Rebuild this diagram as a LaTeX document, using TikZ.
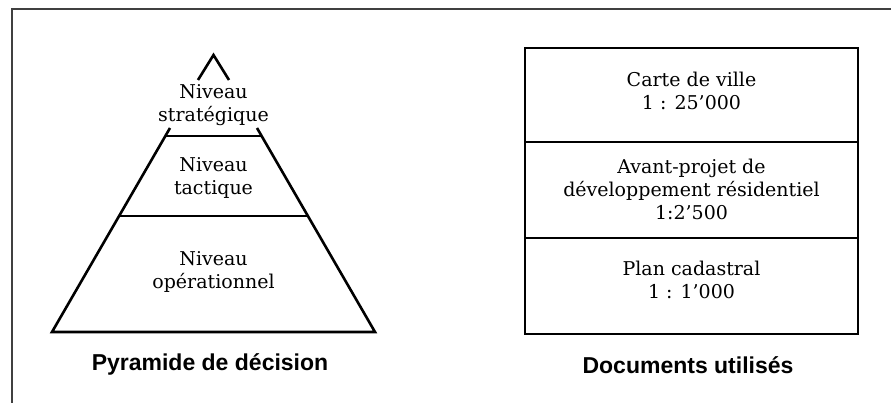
\documentclass[tikz,border=0pt]{standalone}
\usepackage{fontspec}
\setmainfont{DejaVu Serif}
\newfontfamily\capfont{Liberation Sans}
\usetikzlibrary{positioning}

\begin{document}
\begin{tikzpicture}[x=1pt,y=-1pt,
        label text/.style={align=center,font=\fontsize{19}{23}\selectfont},
        caption text/.style={font=\capfont\bfseries\fontsize{23}{26}\selectfont},
        heavy/.style={line width=2.6pt}]
        \useasboundingbox (0,0) rectangle (891,403);
        % frame
        \draw[line width=1.2pt, black!75] (12,403) -- (12,9) -- (891,9);
        % pyramide
        \draw[heavy] (198,80) -- (213.5,55) -- (229,80);
        \draw[heavy] (170,128) -- (52,332) -- (375,332) -- (257,128);
        \draw[heavy] (166,136) -- (261,136);
        \draw[heavy] (120,216) -- (307,216);
        \node[label text] (strat) at (213.5,105) {Niveau\\strat\'egique};
        \node[label text] (tact) at (213.5,178) {Niveau\\tactique};
        \node[label text] (oper) at (213.5,272) {Niveau\\op\'erationnel};
        \node[caption text] (pyr) at (210,364) {Pyramide de d\'ecision};
        % documents
        \draw[heavy] (525,48) rectangle (858,334);
        \draw[heavy] (525,142) -- (858,142);
        \draw[heavy] (525,238) -- (858,238);
        \node[label text] (carte) at (691.5,91) {Carte de ville\\1 : 25'000};
        \node[label text] (avant) at (691.5,189) {Avant-projet de\\d\'eveloppement r\'esidentiel\\1:2'500};
        \node[label text] (plan) at (691.5,280) {Plan cadastral\\1 : 1'000};
        \node[caption text] (docs) at (688,365) {Documents utilis\'es};
\end{tikzpicture}
\end{document}
